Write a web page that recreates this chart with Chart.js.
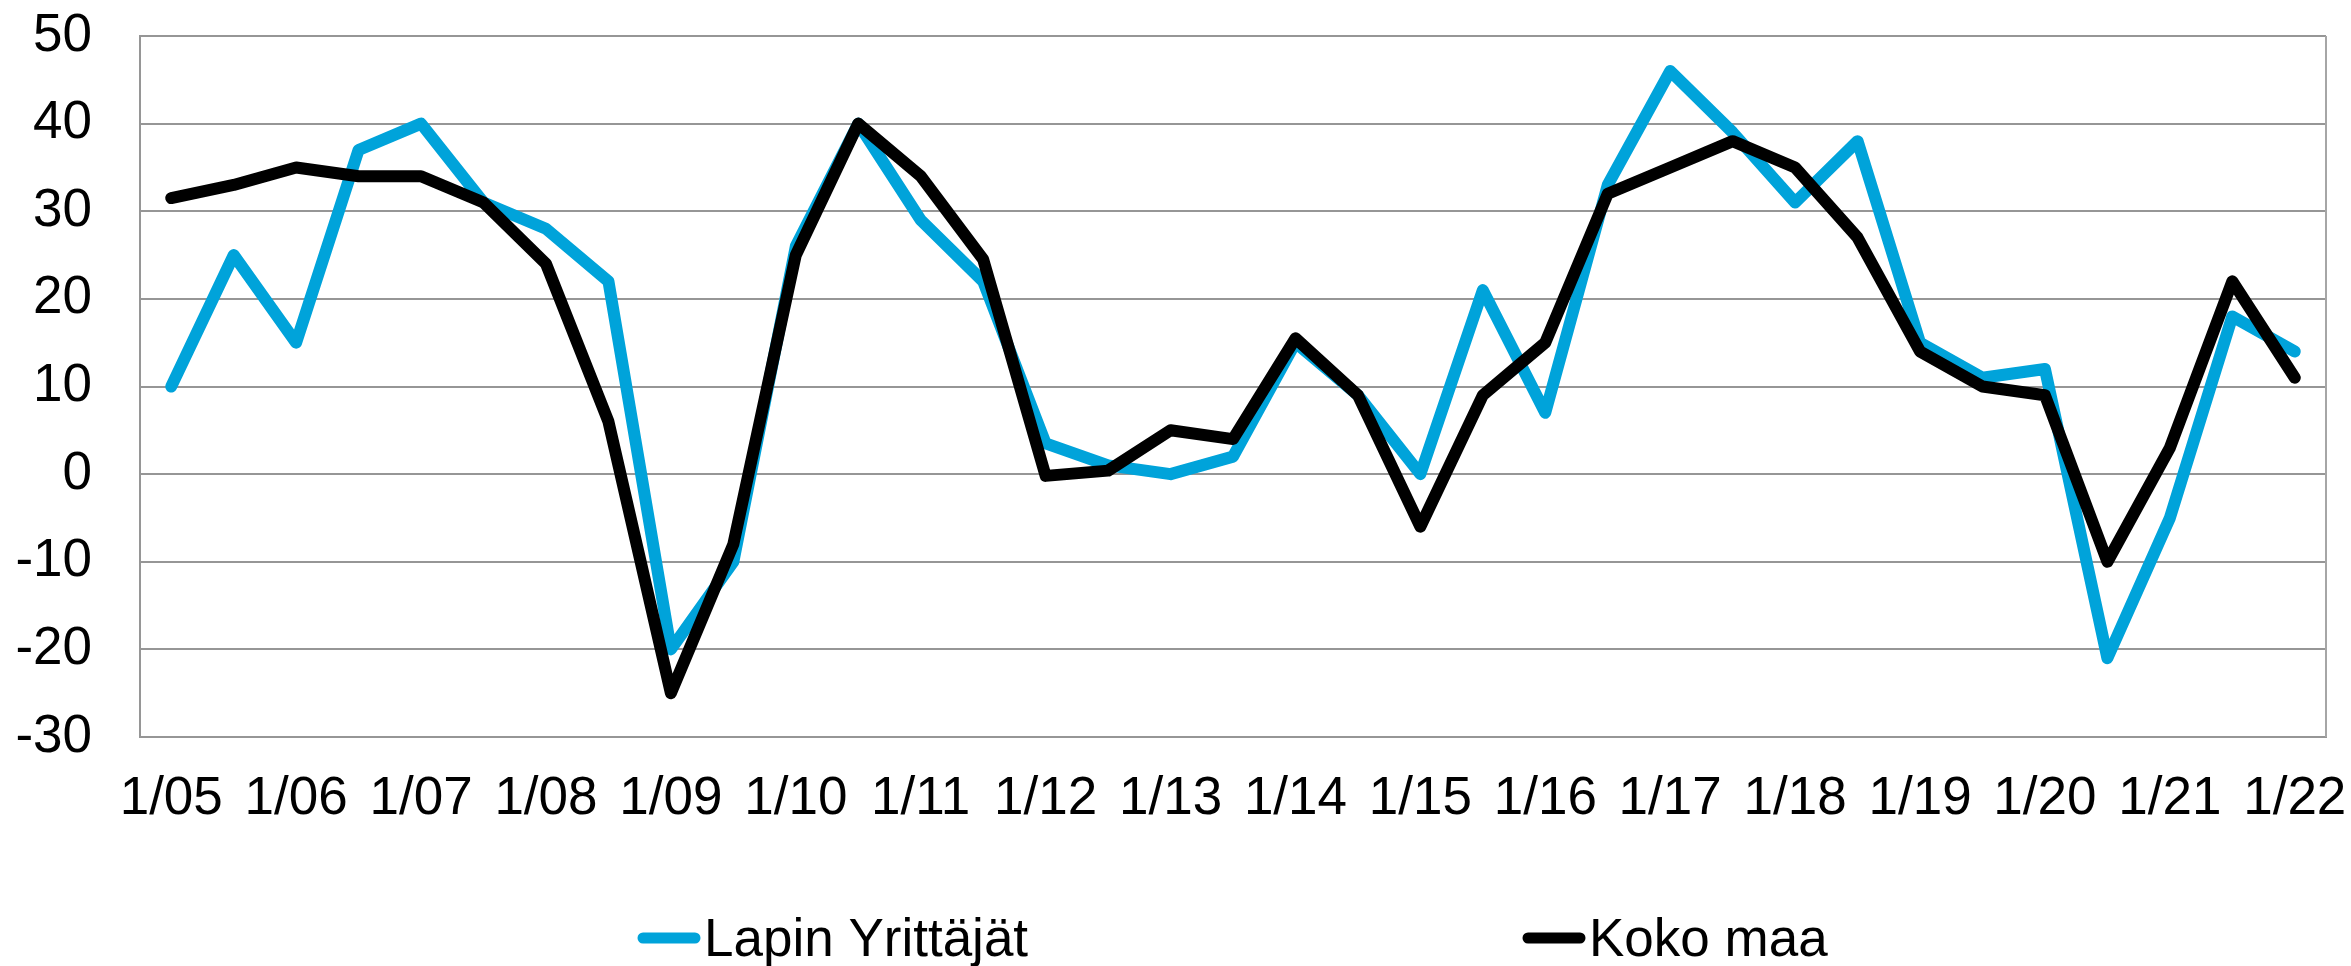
<!DOCTYPE html>
<html lang="fi">
<head>
<meta charset="utf-8">
<title>Suhdannenäkymät</title>
<script src="https://cdn.jsdelivr.net/npm/chart.js@4/dist/chart.umd.min.js"></script>
<style>
    html, body { margin: 0; padding: 0; background: #fff; }
    #wrap { width: 2351px; height: 966px; }
</style>
</head>
<body>
<div id="wrap"><canvas id="saldoChart" width="2351" height="966"></canvas></div>
<script>
// Puolivuosittaiset havainnot 1/05 ... 1/22
const periods = [
    '1/05', '7/05', '1/06', '7/06', '1/07', '7/07', '1/08', '7/08', '1/09', '7/09',
    '1/10', '7/10', '1/11', '7/11', '1/12', '7/12', '1/13', '7/13', '1/14', '7/14',
    '1/15', '7/15', '1/16', '7/16', '1/17', '7/17', '1/18', '7/18', '1/19', '7/19',
    '1/20', '7/20', '1/21', '7/21', '1/22'
];

const lapinYrittajat = [
    10, 25, 15, 37, 40, 31, 28, 22, -20, -10,
    26, 40, 29, 22, 3.5, 1, 0, 2, 15, 9,
    0, 21, 7, 33, 46, 39, 31, 38, 15, 11,
    12, -21, -5, 18, 14
];

const kokoMaa = [
    31.5, 33, 35, 34, 34, 31, 24, 6, -25, -8,
    25, 40, 34, 24.5, -0.2, 0.4, 5, 4, 15.5, 9,
    -6, 9, 15, 32, 35, 38, 35, 27, 14, 10,
    9, -10, 3, 22, 11
];

const seriesNames = ['Lapin Yrittäjät', 'Koko maa'];
const seriesColors = ['#00A3DA', '#000000'];

const yMin = -30;
const yMax = 50;
const yStep = 10;

const FONT = 'Liberation Sans, Arial, sans-serif';
const GRID = '#969696';

// Oikea reuna piirtoalueelle
const areaBorder = {
    id: 'areaBorder',
    beforeDatasetsDraw(chart) {
        const { ctx, chartArea: a } = chart;
        ctx.save();
        ctx.strokeStyle = '#a6a6a6';
        ctx.lineWidth = 2;
        ctx.beginPath();
        ctx.moveTo(a.right, a.top);
        ctx.lineTo(a.right, a.bottom);
        ctx.stroke();
        ctx.restore();
    }
};

// Selite alas, kohdat kuten Excelissä (kaukana toisistaan)
const bottomLegend = {
    id: 'bottomLegend',
    afterDraw(chart) {
        const { ctx, chartArea: a } = chart;
        const y = 938;
        const starts = [a.left + 498, a.left + 1383];
        ctx.save();
        ctx.font = '53px ' + FONT;
        ctx.textBaseline = 'alphabetic';
        ctx.textAlign = 'left';
        chart.data.datasets.forEach((ds, i) => {
            const x = starts[i];
            ctx.strokeStyle = ds.borderColor;
            ctx.lineWidth = 11;
            ctx.lineCap = 'round';
            ctx.beginPath();
            ctx.moveTo(x + 5, y);
            ctx.lineTo(x + 57, y);
            ctx.stroke();
            ctx.fillStyle = '#000';
            ctx.fillText(ds.label, x + 66, y + 18);
        });
        ctx.restore();
    }
};

const ctx = document.getElementById('saldoChart').getContext('2d');

new Chart(ctx, {
    type: 'line',
    data: {
        labels: periods,
        datasets: [
            {
                label: seriesNames[0],
                data: lapinYrittajat,
                borderColor: seriesColors[0],
                backgroundColor: seriesColors[0],
                borderWidth: 12,
                pointRadius: 0,
                borderJoinStyle: 'round',
                borderCapStyle: 'round',
                tension: 0,
                order: 2
            },
            {
                label: seriesNames[1],
                data: kokoMaa,
                borderColor: seriesColors[1],
                backgroundColor: seriesColors[1],
                borderWidth: 12,
                pointRadius: 0,
                borderJoinStyle: 'round',
                borderCapStyle: 'round',
                tension: 0,
                order: 1
            }
        ]
    },
    options: {
        responsive: false,
        animation: false,
        layout: {
            padding: { left: 17, right: 25, top: 36, bottom: 129 }
        },
        plugins: {
            legend: { display: false },
            tooltip: { enabled: false }
        },
        scales: {
            x: {
                offset: true,
                grid: { display: false, drawTicks: false },
                border: { display: true, color: GRID, width: 2 },
                ticks: {
                    autoSkip: false,
                    maxRotation: 0,
                    padding: 31,
                    color: '#000',
                    font: { family: FONT, size: 53 },
                    callback: (value, index) => index % 2 === 0 ? periods[index] : ''
                },
                afterFit(axis) {
                    axis.height = 100;
                    axis.paddingLeft = 0;
                    axis.paddingRight = 0;
                }
            },
            y: {
                min: yMin,
                max: yMax,
                grid: { color: GRID, lineWidth: 2, drawTicks: false },
                border: { display: true, color: GRID, width: 2 },
                ticks: {
                    stepSize: yStep,
                    padding: 48,
                    color: '#000',
                    font: { family: FONT, size: 53 }
                },
                afterFit(axis) {
                    axis.width = 123;
                    axis.paddingTop = 0;
                    axis.paddingBottom = 0;
                }
            }
        }
    },
    plugins: [areaBorder, bottomLegend]
});
</script>
</body>
</html>
